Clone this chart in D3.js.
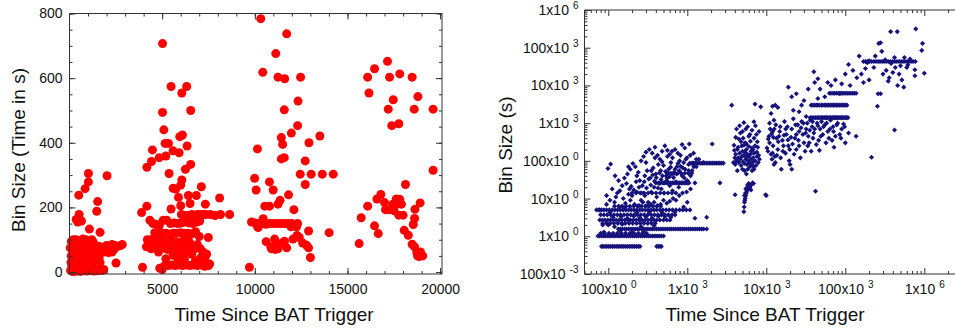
<!DOCTYPE html>
<html>
<head>
<meta charset="utf-8">
<script src="https://cdn.jsdelivr.net/npm/d3@7"></script>
<style>
  body { margin: 0; background: #fff; }
  svg text { font-family: "Liberation Sans", Arial, sans-serif; fill: #111; }
  .axis path { display: none; }
  .axis line { stroke: #333; }
</style>
</head>
<body>
<svg id="chart" width="955" height="333"></svg>
<script>
// ---- left panel: bin size (s) vs time since trigger (s), one array per orbit ----
const orbit1 = [
  [60,5],[120,20],[180,8],[240,35],[300,12],[90,50],[150,70],[210,60],[270,85],[330,45],[390,25],[450,65],
  [510,90],[570,15],[630,40],[690,75],[750,55],[810,30],[870,95],[930,10],[990,70],[1050,48],[1110,85],
  [1170,22],[1230,60],[1290,92],[1350,38],[1410,75],[1470,8],[1530,55],[1590,80],[1650,30],[1710,68],
  [1770,5],[100,95],[200,100],[360,100],[560,98],[720,102],[880,100],[1040,98],[1200,100],[40,75],[80,30],
  [140,2],[260,2],[420,3],[600,2],[780,4],[960,3],[1140,5],[1320,3],[1500,4],[1680,6],[1850,8],[700,20],
  [520,45],[1000,25],[1260,15],[1600,45],[1850,62],[1900,70],[1950,80],[2000,82],[2150,80],[2300,85],
  [2450,82],[2600,80],[2750,82],[2850,85],[2200,68],[2400,70],[2100,60],[2300,62],[1200,95],[1300,60],
  [500,238],[840,258],[1020,279],[1020,305],[2025,298],[520,178],[645,158],[360,163],[1075,133],
  [1520,218],[1470,188],[1650,123],[2510,28],[450,155]
];
const orbit2 = [
  [3940,15],[3890,184],[4175,204],[4175,324],[4425,342],[4475,378],[4840,354],[5200,359],[5020,707],
  [5020,494],[5090,440],[5160,398],[5340,398],[5480,574],[5590,375],[5375,305],[5915,369],[5950,419],
  [6095,424],[6060,554],[6325,574],[6255,318],[6345,390],[6540,500],[6540,333],[6060,285],[6000,269],
  [5590,259],[5735,257],[5880,231],[6415,237],[6845,237],[6506,212],[7330,210],[7115,264],[8100,229],
  [5480,195],[6000,205],
  [6040,178],[6200,175],[6400,175],[6600,178],[6750,175],[6900,178],[7050,178],[7200,178],[7350,178],
  [7600,178],[7850,175],[8150,178],[8640,178],[6500,162],[6650,165],
  [4340,160],[4500,150],[4650,148],[4850,145],[5050,160],[5250,160],[5450,150],[5650,152],[5850,150],
  [6050,152],[6250,155],[6450,152],[6650,150],[6850,155],[7025,158],
  [4600,122],[4800,120],[5000,120],[5200,120],[5400,118],[5600,120],[5800,120],[6000,122],[6200,120],
  [6400,120],[6600,118],[6800,125],[7000,110],
  [4200,100],[4300,80],[4500,90],[4700,75],[4900,95],[5100,85],[5300,70],[5500,100],[5700,80],[5900,65],
  [6100,95],[6300,75],[6500,90],[6700,70],[6900,85],[4400,72],[4600,105],[4800,62],[5000,100],[5200,72],
  [5400,95],[5600,60],[5800,92],[6000,78],[6200,60],[6400,100],[6600,55],[7490,107],[7060,72],[7200,62],
  [7400,55],[7300,40],[4150,78],[4400,100],
  [4870,12],[5000,8],[5100,18],[5300,20],[5500,22],[5700,20],[5900,22],[6100,20],[6300,22],[6500,20],
  [6700,22],[6900,20],[7100,22],[7300,18],[7500,20],[7560,25],[5200,41],[5590,52],[6800,35],[7100,45],
  [6200,40],[5800,45]
];
const orbit3 = [
  [9710,15],[10320,784],[10430,618],[11130,676],[11720,737],[11250,603],[11610,598],[12470,603],
  [11590,502],[12330,529],[12310,453],[11970,430],[12920,400],[13510,421],[11430,416],[11500,395],
  [10140,381],[11430,350],[11590,354],[12720,344],[12450,303],[13040,303],[13640,303],[14230,303],
  [9990,290],[10070,254],[12720,271],[10790,279],[10990,254],[11360,222],[11820,239],[11250,210],
  [10540,204],[10790,204],[12110,193],[10180,138],[12900,127],[14010,122],[12060,102],[12280,113],
  [12400,107],[10610,94],[11070,102],[11250,87],[10860,78],[11250,72],[11720,75],[11500,91],[12580,90],
  [12790,83],[12900,75],[13000,45],[11100,70],[11600,95],[10900,72],
  [9820,155],[10000,152],[10200,150],[10400,150],[10600,148],[10800,150],[11000,150],[11200,150],
  [11400,150],[11600,150],[11800,150],[12000,150],[12200,148],[12310,150],[10150,140],[10450,165],
  [11950,140],[12250,140]
];
const orbit4 = [
  [16090,603],[16160,554],[16460,629],[17160,652],[17270,603],[17820,613],[17200,504],[17470,533],
  [17390,453],[17770,459],[18490,603],[18600,504],[18800,543],[19620,504],[19620,315],[15630,88],
  [15740,168],[16090,204],[16460,143],[16660,119],[16590,226],[16800,240],[17000,215],[17050,193],
  [17230,193],[17450,210],[17630,226],[17820,225],[17910,210],[18130,271],[17770,176],[18000,176],
  [18060,129],[18280,114],[18490,86],[18620,78],[18620,166],[18640,194],[18550,147],[18920,214],
  [18740,60],[18780,50],[18940,62],[19060,50],[18860,48],[17680,210],[17500,190]
];
const linearXTicks = [5000, 10000, 15000, 20000];
const linearYTicks = [0, 200, 400, 600, 800];

// ---- right panel: log-log, bands are rows of equal bin size ----
const bandRows = [
  { bin: 0.54, times: [82,86,91,96,101,107,113,119,126,133,140,148,156,165,174,184,194,205,216,228,241,252,410,430,452,470] },
  { bin: 1.02, times: [74,78,83,88,93,99,105,111,118,125,133,141,150,159,169,179,190,202,214,227,241,256,272,289,307,326,346,367,390,414,440,467,500] },
  { bin: 1.2, times: [80,90,102,115,130,147,166,188,212,240,271,306] },
  { bin: 1.56, times: [134,142,151,161,171,182,194,206,219,233,248,264,281,299,318,338,360,383,408,434,462,492,524,558,594,632,673,716,762,811,863,918,977,1040,1107,1178,1254,1335,1421,1512,1610,1760] },
  { bin: 2.2, times: [85,95,106,118,132,147,164,183,204,228,254,283,316,352,393] },
  { bin: 2.7, times: [78,84,91,99,107,116,126,137,149,162,176,191,208,226,246,268,292,318,346,377,410,450,500,550,604] },
  { bin: 3.7, times: [80,88,97,107,118,130,143,158,174,192,212,234,258,285,315,348,385,425,470,520,575,640,700] },
  { bin: 5.0, times: [71,76,82,88,95,103,112,121,131,142,154,167,181,196,212,230,250,270,295,320,350,380,410,450,490,540,590,650,720,800,880,970,1080] },
  { bin: 6.3, times: [120,135,150,168,188,210,235,263,294,329,368,411,460] },
  { bin: 14, times: [200,225,253,284,319,358,402,452,507,570,640,718] },
  { bin: 26, times: [400,430,460,490,520,550,580,615,650,685,720,760,800,840,880,920,960,1005,1050] },
  { bin: 47, times: [560,620,690,760,840,930,1030,1140] },
  { bin: 87, times: [1080,1150,1200,1260,1330,1400,1480,1560,1640,1730,1820,1910,2000,2100,2200,2320,2450,2580,2700,2860] },
  { bin: 1400, times: [36000,38000,40000,42000,44000,46000,48000,50000,52000,54000,56000,58000,60000,63000,65000,68000,70000,73000,75000,78000,80000,83000,86000,89000,92000,96000,100000,104000,108000] },
  { bin: 3000, times: [39000,41000,43000,45000,47000,50000,52000,55000,57000,60000,62000,65000,68000,71000,74000,77000,80000,84000,88000,92000,96000,100000,105000] },
  { bin: 6200, times: [63000,66000,70000,73000,77000,81000,85000,89000,93000,97000,102000,107000,112000,118000,124000,130000,137000] },
  { bin: 43000, times: [170000,180000,190000,202000,215000,230000,245000,260000,275000,292000,310000,330000,350000,375000,400000,425000,450000,480000,510000,540000,570000,605000,640000,680000,720000,770000] }
];
const earlyScatter = [
  [107,82],[99,63],[122,40],[135,30],[150,22],[112,18],[95,12],[130,14],[160,35],[175,45],[190,60],[205,85],
  [220,70],[240,50],[260,100],[280,130],[300,170],[330,200],[360,160],[390,230],[420,140],[450,110],[480,180],
  [520,250],[560,190],[600,150],[650,120],[700,200],[760,160],[860,270],[1060,280],[2070,280],[930,220],
  [1200,160],[1400,110],[1600,90],[2590,26],[1760,3.2],[1250,3.0],[250,30],[270,22],[290,40],[310,55],
  [340,35],[370,65],[400,45],[430,80],[460,55],[500,75],[540,40],[580,60],[620,90],[680,50],[740,70],
  [800,100],[880,65],[960,110],[1040,80],[1150,55],[1300,70],[170,25],[185,18],[200,12],[230,15],[260,9],
  [290,12],[320,8],[350,15],[380,20],[410,11],[440,25],[470,18],[510,14],[550,30],[600,22],[650,16],
  [720,28],[780,20],[850,26],[920,35],[1000,30],[1100,40],[1250,26],[120,8],[140,6],[165,7.5],[190,9],
  [215,7],[245,6.5],[275,8],[310,6.5],[345,7],[380,8],[420,6.5],[460,7],[500,9],[550,7.5],[600,8.5],
  [660,10],[720,9],[790,12],[870,14],[980,15],[1100,18],[115,3.2],[145,3.3],[175,3],[210,3.4],[250,3.1],
  [300,3.3],[360,3],[430,3.4],[520,3.3],[620,3.2],[88,1.3],[100,2],[120,1.8],[150,2.1],[200,1.25],
  [280,1.3],[78,5],[85,2],
  [105,9],[125,11],[140,16],[155,10],[180,13],[195,21],[210,17],[225,28],[245,20],[265,14],[285,28],
  [305,19],[325,33],[345,23],[365,42],[385,29],[405,36],[425,19],[445,48],[465,32],[485,40],[505,26],
  [530,52],[555,35],[575,48],[595,38],[615,68],[640,45],[670,36],[700,60],[730,45],[760,85],[790,55],
  [820,72],[860,40],[900,90],[940,60],[990,120],[1040,55],[1090,140],[1150,85],[1210,70],[1300,110],
  [230,40],[350,55],[480,95],[560,130],[640,180],[820,140],[180,70],[300,90],[390,120],[160,5.5],
  [230,4.3],[330,4.5],[480,4.2],[700,4.4],[900,6],[1000,8],[95,7],[105,4.3],[140,1.4],[260,1.8],[380,1.9]
];
const midScatter = [
  [3650,3000],[4030,12.6],[4200,700],[4500,380],[4700,550],[4900,250],[5100,400],[5200,1030],[5400,300],
  [5600,200],[5800,150],[6000,450],[6300,330],[6600,220],[6970,1090],[7200,3200],[8500,2700],[9800,12.6],
  [4100,150],[4200,100],[4300,200],[4400,120],[4500,90],[4600,160],[4700,110],[4800,75],[4900,130],
  [5000,180],[5100,95],[5200,140],[5300,85],[5400,170],[5500,110],[5600,125],[5700,80],[5800,60],
  [5900,100],[6000,130],[6100,90],[6200,70],[6300,150],[6400,110],[6500,80],[6600,55],[6700,90],
  [6800,120],[6900,70],[7000,160],[7200,100],[7400,75],[7600,130],[7900,90],[4400,230],[4800,320],
  [5200,260],[5600,280],[6000,240],[6400,180],[6800,200],[7200,250],[7600,170],[5000,600],[5500,700],
  [6200,500],[7000,400],[5000,60],[5300,55],[5600,45],[4000,120],[3950,190],[4050,80],[7800,230],
  [8000,140],[7500,500],[6600,650],[5800,800],[4600,850],[8200,110],[7000,60],[4300,55],
  [3900,260],[4100,420],[7700,320],[8100,600],[7300,850],[3850,90],
  [5200,4.5],[5250,6],[5300,8],[5400,10],[5500,12],[5600,14],[5700,16],[5900,18],[6100,20],[6300,22],
  [6500,24],[6700,26],[6900,25],[5350,9],[5450,14],[5650,19],[5800,23],[6000,25],[6200,19],[6400,17],
  [5500,18],[5300,12]
];
const lateScatter = [
  [10000,12],[11000,300],[11500,150],[12000,600],[12500,1200],[13000,90],[13500,400],[14000,200],
  [15000,800],[15500,60],[16000,350],[17000,1100],[18000,500],[19000,250],[20000,80],[21000,700],
  [22000,1300],[23000,400],[24000,200],[25000,900],[26000,600],[28000,1100],[30000,300],[32000,700],
  [34000,450],[36000,1200],[38000,800],[40000,550],[42000,15.7],[44000,1000],[46000,350],[48000,700],
  [50000,1100],[55000,900],[60000,600],[65000,1200],[70000,800],[75000,450],[80000,1000],[90000,700],
  [100000,300],[110000,550],[137000,450],[10500,180],[11200,700],[12200,250],[12800,130],[13200,900],
  [14500,450],[15200,120],[16500,250],[17500,160],[18500,800],[19500,100],[21000,60],[22500,150],
  [24000,500],[26000,250],[27000,120],[29000,500],[31000,180],[33000,1000],[35000,300],[37000,180],
  [39000,400],[43000,270],[47000,190],[52000,500],[57000,300],[62000,400],[68000,350],[72000,230],
  [85000,500],[95000,950],[11000,1000],[10800,450],[12500,80],
  [10200,220],[10600,380],[11800,110],[12000,160],[12300,420],[11700,520],[12600,700],[13600,140],
  [14200,320],[14800,600],[16200,180],[16800,480],[17600,700],[18800,360],[19800,200],[20500,420],
  [21500,280],[23500,900],[25500,350],[27500,750],[29500,1000],[31500,550],[33500,250],[35500,650],
  [38500,1100],[41000,700],[45000,850],[49000,450],[53000,800],[58000,1000],[64000,700],[71000,600],
  [78000,900],[88000,400],[98000,800],[12000,2800],[11500,1800],
  [13000,3000],[14000,2600],[19000,9000],[21000,5000],[24000,6000],[28000,3000],[30000,4000],
  [34000,8000],[37000,3000],[40000,23000],[41000,12000],[45000,15000],[48000,8000],[55000,5000],
  [60000,12000],[66000,10000],[75000,14000],[85000,6000],[90000,11000],[100000,20000],[110000,36000],
  [115000,10000],[125000,25000],[140000,16000],[32000,1500],[26000,2000],[22000,2200],[45000,4500]
];
const tailScatter = [
  [265000,130000],[280000,135000],[375000,267000],[455000,267000],[780000,315000],[950000,130000],
  [930000,85000],[290000,80000],[1000000,21000],[760000,18000],[760000,26000],[550000,9000],
  [600000,30000],[255000,2800],[215000,125],[420000,660],[160000,20000],[180000,28000],[200000,14000],
  [230000,30000],[260000,6000],[280000,6000],[300000,20000],[330000,25000],[360000,16000],
  [400000,22000],[430000,30000],[480000,20000],[520000,14000],[560000,55000],[620000,35000],
  [660000,50000],[200000,45000],[240000,60000],[320000,48000],[380000,38000],[420000,55000],
  [500000,33000],[150000,60000],[170000,12000],[190000,40000],[460000,10000],[350000,13000]
];
const logXTicks = [100, 1e3, 1e4, 1e5, 1e6];
const logYTicks = [0.1, 1, 10, 100, 1e3, 1e4, 1e5, 1e6];

const svg = d3.select("#chart");

// ================= left panel =================
const xL = d3.scaleLinear().domain([0, 20100]).range([69.5, 442]);
const yL = d3.scaleLinear().domain([-6, 800]).range([274, 13.5]);
const left = svg.append("g");

left.append("g").selectAll("circle")
  .data([...orbit1, ...orbit2, ...orbit3, ...orbit4])
  .join("circle")
  .attr("cx", d => xL(d[0]))
  .attr("cy", d => yL(d[1]))
  .attr("r", 4.5)
  .attr("fill", "#ff0000");

const minorXL = d3.range(1000, 20001, 1000);
const minorYL = d3.range(0, 801, 50);

function linAxes(g) {
  // bottom
  g.append("g").attr("class", "axis").attr("transform", "translate(0,274)")
    .call(d3.axisBottom(xL).tickValues(minorXL).tickSize(-3).tickFormat(""));
  g.append("g").attr("class", "axis").attr("transform", "translate(0,274)")
    .call(d3.axisBottom(xL).tickValues(linearXTicks).tickSize(-6).tickPadding(10).tickFormat(d3.format("d")));
  // top
  g.append("g").attr("class", "axis").attr("transform", "translate(0,13.5)")
    .call(d3.axisTop(xL).tickValues(minorXL).tickSize(-3).tickFormat(""));
  g.append("g").attr("class", "axis").attr("transform", "translate(0,13.5)")
    .call(d3.axisTop(xL).tickValues(linearXTicks).tickSize(-6).tickFormat(""));
  // left
  g.append("g").attr("class", "axis").attr("transform", "translate(69.5,0)")
    .call(d3.axisLeft(yL).tickValues(minorYL).tickSize(-3).tickFormat(""));
  g.append("g").attr("class", "axis").attr("transform", "translate(69.5,0)")
    .call(d3.axisLeft(yL).tickValues(linearYTicks).tickSize(-6).tickPadding(7).tickFormat(d3.format("d")));
  // right
  g.append("g").attr("class", "axis").attr("transform", "translate(442,0)")
    .call(d3.axisRight(yL).tickValues(minorYL).tickSize(-3).tickFormat(""));
  g.append("g").attr("class", "axis").attr("transform", "translate(442,0)")
    .call(d3.axisRight(yL).tickValues(linearYTicks).tickSize(-6).tickFormat(""));
}
linAxes(left);
left.selectAll(".axis text").attr("font-size", 14).attr("fill", "#111");

left.append("rect")
  .attr("x", 69.5).attr("y", 13.5).attr("width", 442 - 69.5).attr("height", 274 - 13.5)
  .attr("fill", "none").attr("stroke", "#333");

left.append("text").attr("x", 274).attr("y", 321).attr("text-anchor", "middle")
  .attr("font-size", 19).text("Time Since BAT Trigger");
left.append("text").attr("transform", "translate(18,150) rotate(-90)").attr("text-anchor", "middle")
  .attr("dy", "0.35em").attr("font-size", 19).text("Bin Size (Time in s)");

// ================= right panel =================
const xR = d3.scaleLog().domain([50, 3e6]).range([584.5, 584.5 + 79 * Math.log10(3e6 / 50)]);
const yR = d3.scaleLog().domain([0.1, 1e6]).range([274, 10]);
const right = svg.append("g");

const bandPoints = bandRows.flatMap(r => r.times.map(t => [t, r.bin]));
const diamond = d3.symbol().type(d3.symbolSquare).size(13);
right.append("g").selectAll("path")
  .data([...bandPoints, ...earlyScatter, ...midScatter, ...lateScatter, ...tailScatter])
  .join("path")
  .attr("d", diamond)
  .attr("transform", d => `translate(${xR(d[0])},${yR(d[1])}) rotate(45)`)
  .attr("fill", "#16127c");

function minorLog(lo, hi) {
  const out = [];
  for (let e = Math.floor(Math.log10(lo)); e <= Math.ceil(Math.log10(hi)); e++) {
    for (let k = 2; k <= 9; k++) {
      const v = k * Math.pow(10, e);
      if (v >= lo && v <= hi) out.push(v);
    }
  }
  return out;
}
const minorXR = minorLog(50, 3e6);
const minorYR = minorLog(0.1, 1e6);

function sciLabel(sel, anchor) {
  sel.selectAll(".tick text").each(function (v) {
    const e = Math.floor(Math.log10(v) / 3 + 1e-9) * 3;
    const m = Math.round(v / Math.pow(10, e));
    const t = d3.select(this).text(null).attr("text-anchor", anchor);
    t.append("tspan").text(m + "x10");
    t.append("tspan").attr("dx", 4).attr("dy", -6).attr("font-size", 10).text(e);
  });
}

const bx = right.append("g").attr("class", "axis").attr("transform", "translate(0,274)");
bx.call(d3.axisBottom(xR).tickValues(minorXR).tickSize(-3).tickFormat(""));
const bxMaj = right.append("g").attr("class", "axis").attr("transform", "translate(0,274)")
  .call(d3.axisBottom(xR).tickValues(logXTicks).tickSize(-6).tickPadding(10).tickFormat(d => d));
sciLabel(bxMaj, "middle");
right.append("g").attr("class", "axis").attr("transform", "translate(0,10)")
  .call(d3.axisTop(xR).tickValues(minorXR).tickSize(-3).tickFormat(""));
right.append("g").attr("class", "axis").attr("transform", "translate(0,10)")
  .call(d3.axisTop(xR).tickValues(logXTicks).tickSize(-6).tickFormat(""));

right.append("g").attr("class", "axis").attr("transform", "translate(584.5,0)")
  .call(d3.axisLeft(yR).tickValues(minorYR).tickSize(-3).tickFormat(""));
const lyMaj = right.append("g").attr("class", "axis").attr("transform", "translate(584.5,0)")
  .call(d3.axisLeft(yR).tickValues(logYTicks).tickSize(-6).tickPadding(6).tickFormat(d => d));
sciLabel(lyMaj, "end");
right.selectAll(".axis text").attr("font-size", 14).attr("fill", "#111");
right.selectAll(".axis text tspan:nth-child(2)").attr("font-size", 10);

right.append("path")
  .attr("d", `M960,10H584.5V274H960`)
  .attr("fill", "none").attr("stroke", "#333");

right.append("text").attr("x", 765).attr("y", 321).attr("text-anchor", "middle")
  .attr("font-size", 19).text("Time Since BAT Trigger");
right.append("text").attr("transform", "translate(505,145) rotate(-90)").attr("text-anchor", "middle")
  .attr("dy", "0.35em").attr("font-size", 19).text("Bin Size (s)");
</script>
</body>
</html>
